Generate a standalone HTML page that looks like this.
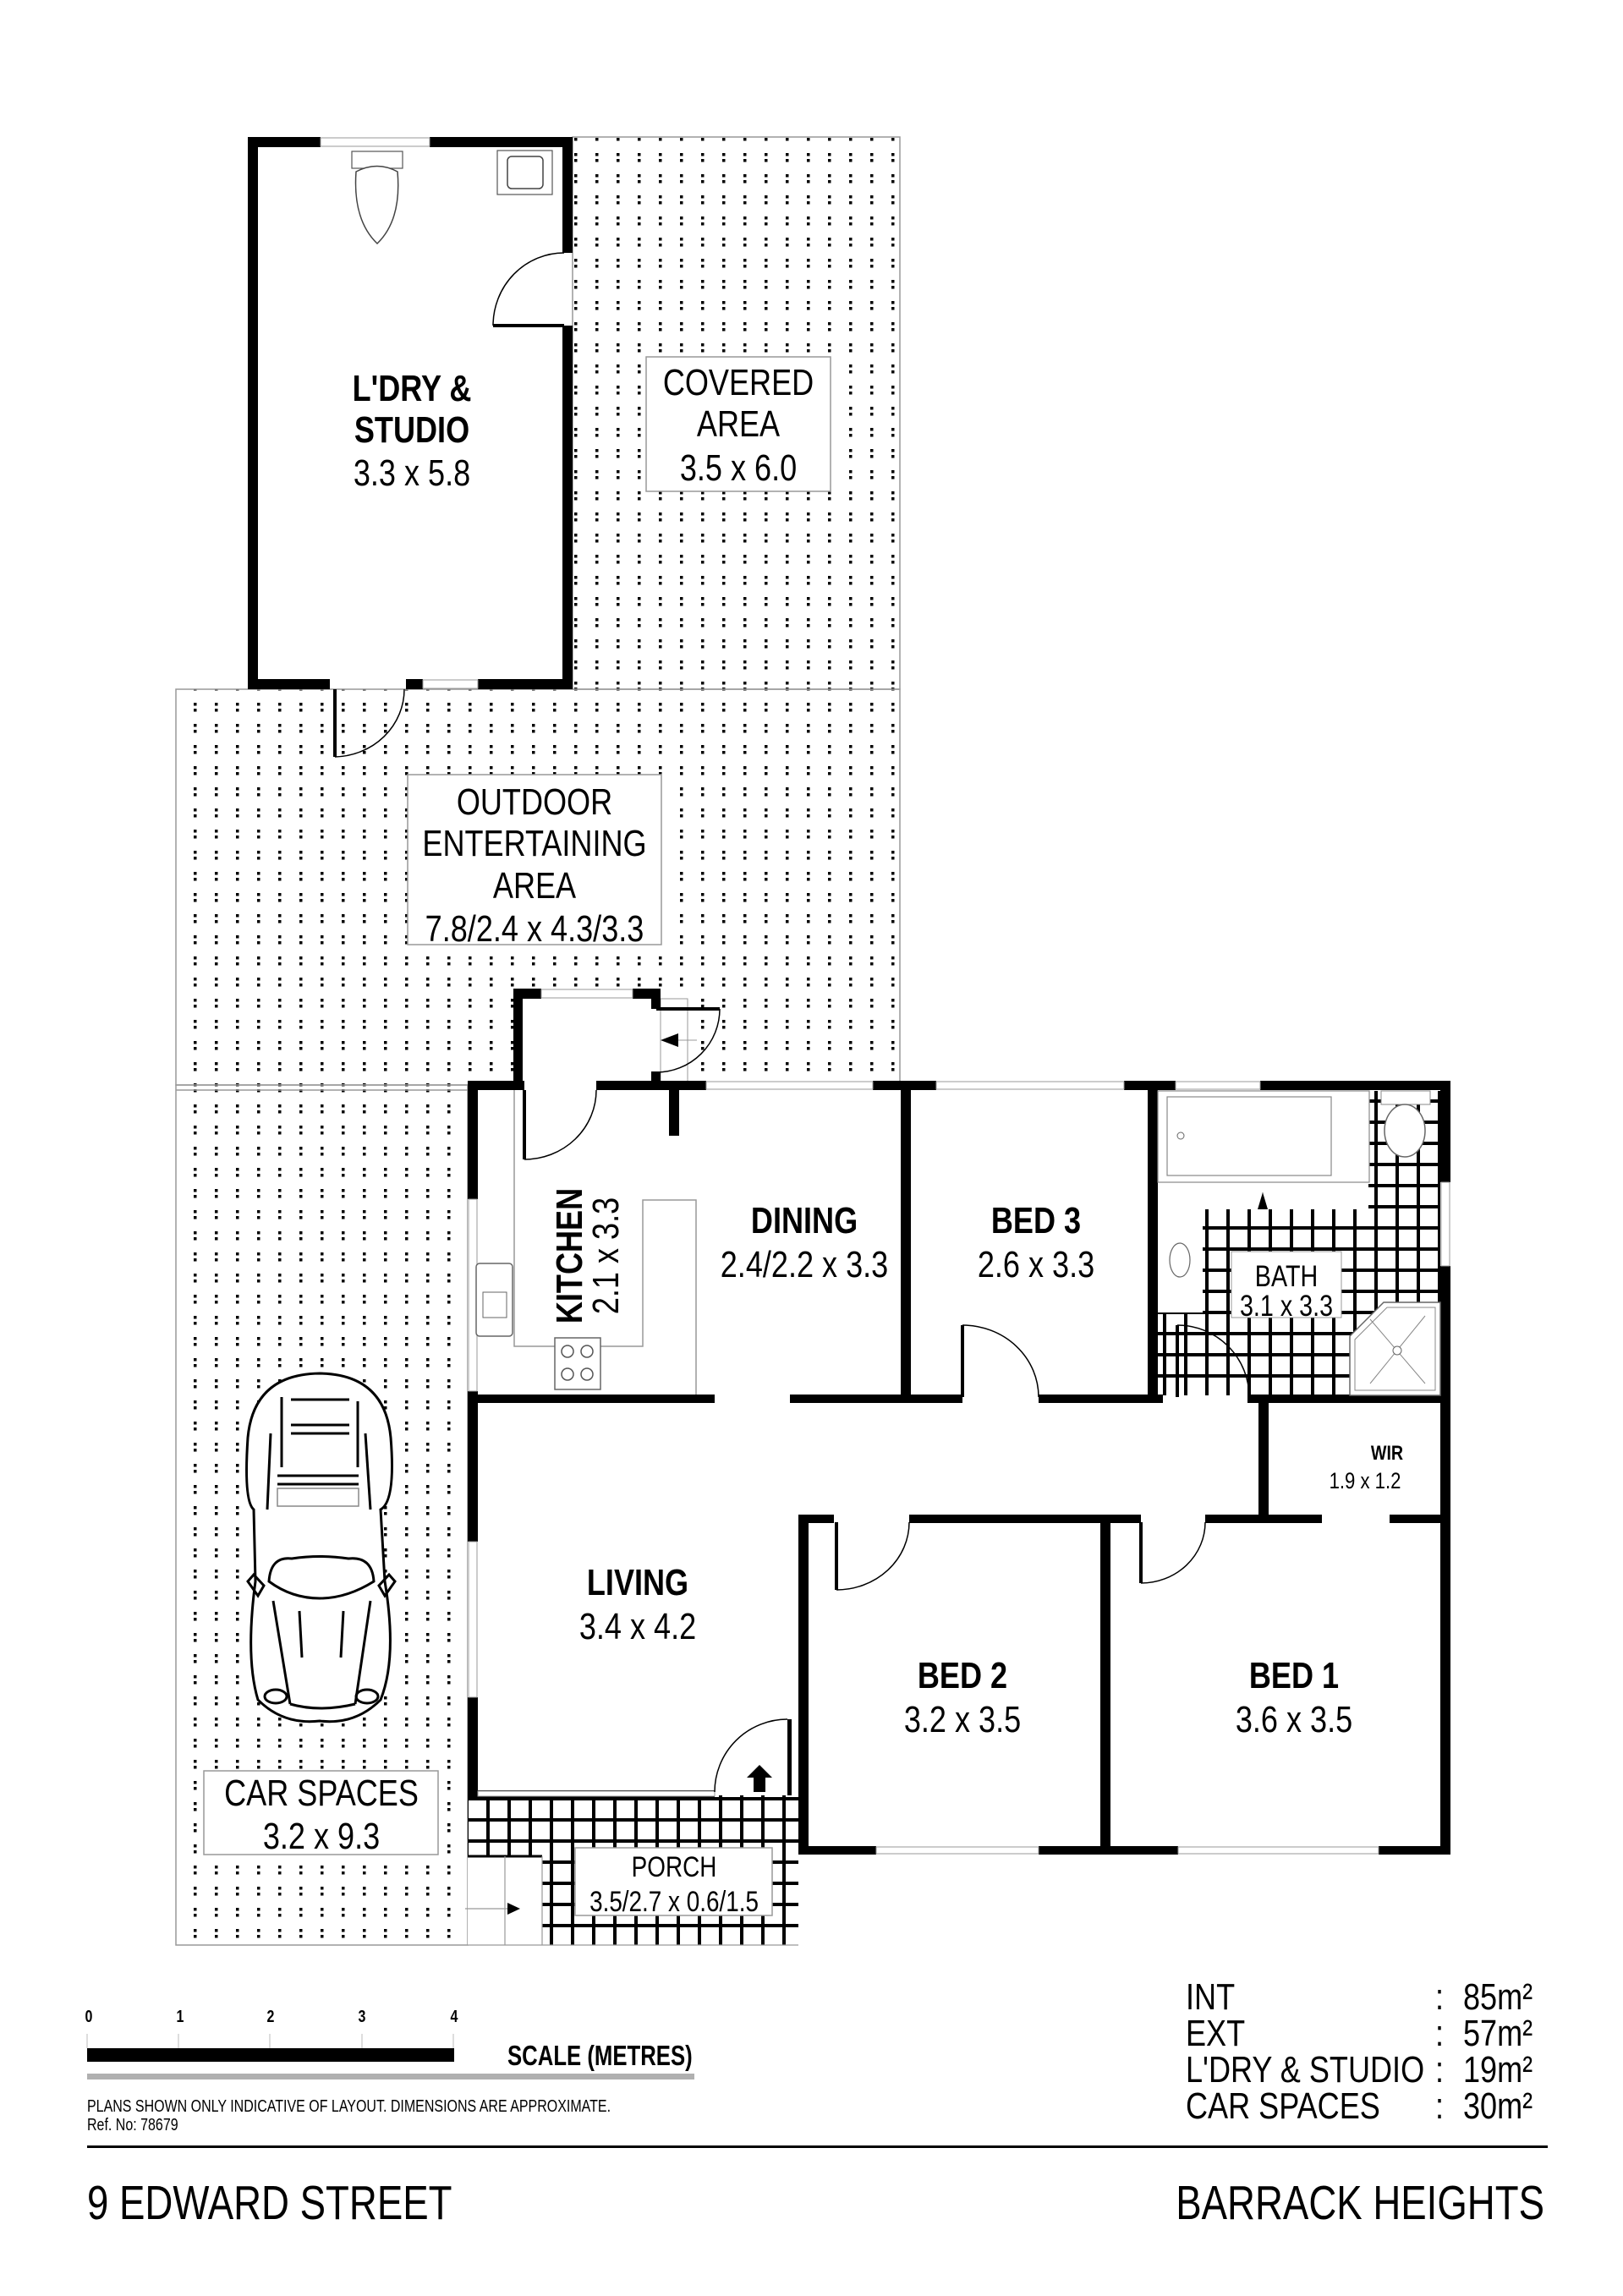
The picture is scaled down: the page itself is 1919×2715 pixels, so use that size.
<!DOCTYPE html>
<html><head><meta charset="utf-8"><style>
html,body{margin:0;padding:0;background:#fff;}
svg{display:block;}
text{font-family:"Liberation Sans",sans-serif;fill:#000;}
</style></head><body>
<svg width="1919" height="2715" viewBox="0 0 1919 2715" xmlns="http://www.w3.org/2000/svg">
<defs>
<pattern id="dots" x="0" y="0" width="25" height="25" patternUnits="userSpaceOnUse">
<rect x="4" y="6" width="3.5" height="3.5" fill="#000"/><rect x="4" y="13" width="3.5" height="3.5" fill="#000"/>
</pattern>
<pattern id="tiles" x="0" y="0" width="25" height="25" patternUnits="userSpaceOnUse">
<rect x="0" y="0" width="25" height="25" fill="#fff"/>
<rect x="0" y="0" width="4" height="25" fill="#000"/><rect x="0" y="0" width="25" height="4" fill="#000"/>
</pattern>
</defs>

<rect x="677" y="162" width="387" height="653" fill="url(#dots)" stroke="#999" stroke-width="1.5"/>
<rect x="208" y="815" width="856" height="468" fill="url(#dots)" stroke="#999" stroke-width="1.5"/>
<rect x="208" y="1283" width="345" height="1017" fill="url(#dots)" stroke="#999" stroke-width="1.5"/>
<line x1="208" y1="1289" x2="553" y2="1289" stroke="#999" stroke-width="1.5"/>

<rect x="305" y="174" width="360" height="629" fill="#fff"/>
<g fill="#000">
<rect x="293" y="162" width="12" height="653"/>
<rect x="293" y="162" width="86" height="12"/>
<rect x="508" y="162" width="169" height="12"/>
<rect x="665" y="162" width="12" height="137"/>
<rect x="665" y="385" width="12" height="430"/>
<rect x="293" y="803" width="97" height="12"/>
<rect x="480" y="803" width="20" height="12"/>
<rect x="565" y="803" width="112" height="12"/>
</g>
<rect x="379" y="163" width="129" height="10" fill="#fff" stroke="#999" stroke-width="1"/>
<rect x="500" y="804" width="65" height="10" fill="#fff" stroke="#999" stroke-width="1"/>
<line x1="583" y1="385" x2="667" y2="385" stroke="#000" stroke-width="4"/>
<path d="M583 385 A84 86 0 0 1 667 299" fill="none" stroke="#000" stroke-width="1.5"/>
<line x1="396" y1="815" x2="396" y2="895" stroke="#000" stroke-width="4"/>
<path d="M396 895 A84 80 0 0 0 478 815" fill="none" stroke="#000" stroke-width="1.5"/>
<rect x="416" y="179" width="60" height="20" fill="#fff" stroke="#555" stroke-width="1.2"/>
<path d="M421 203 Q446 190 470 203 Q475 260 446 288 Q417 260 421 203Z" fill="#fff" stroke="#444" stroke-width="1.5"/>
<rect x="588" y="178" width="65" height="52" fill="#fff" stroke="#555" stroke-width="1.2"/>
<rect x="600" y="185" width="42" height="38" rx="5" fill="#fff" stroke="#444" stroke-width="1.5"/>

<g font-weight="bold" font-size="44" text-anchor="middle">
<text transform="translate(487,474) scale(.82,1)">L'DRY &amp;</text>
<text transform="translate(487,523) scale(.82,1)">STUDIO</text>
</g>
<text transform="translate(487,574) scale(.82,1)" font-size="44" text-anchor="middle">3.3 x 5.8</text>

<rect x="764" y="422" width="218" height="159" fill="#fff" stroke="#999" stroke-width="1.5"/>
<g font-size="44" text-anchor="middle">
<text transform="translate(873,467) scale(.82,1)">COVERED</text>
<text transform="translate(873,516) scale(.82,1)">AREA</text>
<text transform="translate(873,568) scale(.82,1)">3.5 x 6.0</text>
</g>

<rect x="482" y="916" width="300" height="201" fill="#fff" stroke="#999" stroke-width="1.5"/>
<g font-size="44" text-anchor="middle">
<text transform="translate(632,963) scale(.82,1)">OUTDOOR</text>
<text transform="translate(632,1012) scale(.82,1)">ENTERTAINING</text>
<text transform="translate(632,1062) scale(.82,1)">AREA</text>
<text transform="translate(632,1113) scale(.82,1)">7.8/2.4 x 4.3/3.3</text>
</g>

<rect x="553" y="1278" width="1162" height="845" fill="#fff"/>
<rect x="944" y="2123" width="771" height="70" fill="#fff"/>
<rect x="607" y="1169" width="174" height="115" fill="#fff"/>
<rect x="781" y="1181" width="32" height="100" fill="#fff" stroke="#999" stroke-width="1"/>

<rect x="553" y="2123" width="391" height="177" fill="url(#tiles)"/>
<rect x="553" y="2195" width="88" height="105" fill="#fff"/>
<line x1="553" y1="2195" x2="641" y2="2195" stroke="#000" stroke-width="3"/>
<line x1="597" y1="2195" x2="597" y2="2300" stroke="#999" stroke-width="1.2"/>
<line x1="641" y1="2195" x2="641" y2="2300" stroke="#999" stroke-width="1.2"/>
<line x1="553" y1="2300" x2="944" y2="2300" stroke="#999" stroke-width="1.2"/>
<line x1="550" y1="2257" x2="600" y2="2257" stroke="#999" stroke-width="1.2"/>
<polygon points="600,2250 615,2257 600,2264" fill="#000"/>

<rect x="1422" y="1430" width="281" height="220" fill="url(#tiles)"/>
<rect x="1618" y="1290" width="85" height="140" fill="url(#tiles)"/>
<rect x="1368" y="1552" width="54" height="98" fill="url(#tiles)"/>

<g fill="#000">
<rect x="607" y="1169" width="11" height="119"/>
<rect x="607" y="1169" width="33" height="12"/>
<rect x="748" y="1169" width="33" height="12"/>
<rect x="770" y="1169" width="11" height="24"/>
<rect x="770" y="1267" width="11" height="21"/>
</g>
<rect x="640" y="1170" width="108" height="10" fill="#fff" stroke="#999" stroke-width="1"/>
<line x1="776" y1="1193" x2="851" y2="1193" stroke="#000" stroke-width="4"/>
<path d="M851 1193 A75 75 0 0 1 776 1268" fill="none" stroke="#000" stroke-width="1.5"/>
<polygon points="781,1230 802,1222 802,1238" fill="#000"/>
<line x1="802" y1="1230" x2="824" y2="1230" stroke="#999" stroke-width="1"/>

<g fill="#000">
<rect x="553" y="1278" width="67" height="11"/>
<rect x="705" y="1278" width="130" height="11"/>
<rect x="1032" y="1278" width="75" height="11"/>
<rect x="1329" y="1278" width="61" height="11"/>
<rect x="1490" y="1278" width="225" height="11"/>
<rect x="553" y="1278" width="12" height="140"/>
<rect x="553" y="1645" width="12" height="178"/>
<rect x="553" y="2007" width="12" height="121"/>
<rect x="1703" y="1278" width="12" height="120"/>
<rect x="1703" y="1497" width="12" height="696"/>
<rect x="791" y="1289" width="12" height="54"/>
<rect x="553" y="1649" width="292" height="10"/>
<rect x="934" y="1649" width="204" height="10"/>
<rect x="1228" y="1649" width="147" height="10"/>
<rect x="1475" y="1649" width="240" height="10"/>
<rect x="1065" y="1278" width="12" height="381"/>
<rect x="1357" y="1278" width="12" height="381"/>
<rect x="1488" y="1649" width="12" height="151"/>
<rect x="944" y="1791" width="42" height="10"/>
<rect x="1075" y="1791" width="274" height="10"/>
<rect x="1425" y="1791" width="138" height="10"/>
<rect x="1643" y="1791" width="72" height="10"/>
<rect x="944" y="1791" width="12" height="402"/>
<rect x="1301" y="1801" width="12" height="392"/>
<rect x="553" y="2117" width="292" height="8"/>
<rect x="931" y="2033" width="5" height="90"/>
<rect x="944" y="2183" width="92" height="10"/>
<rect x="1228" y="2183" width="165" height="10"/>
<rect x="1630" y="2183" width="85" height="10"/>
</g>
<g fill="#fff" stroke="#999" stroke-width="1">
<rect x="835" y="1279" width="197" height="9"/>
<rect x="1107" y="1279" width="222" height="9"/>
<rect x="1390" y="1279" width="100" height="9"/>
<rect x="554" y="1418" width="10" height="227"/>
<rect x="554" y="1823" width="10" height="184"/>
<rect x="1704" y="1398" width="10" height="99"/>
<rect x="1036" y="2184" width="192" height="8"/>
<rect x="1393" y="2184" width="237" height="8"/>
<rect x="565" y="2118" width="280" height="6"/>
</g>

<g fill="none" stroke="#000">
<line x1="620" y1="1289" x2="620" y2="1371" stroke-width="4"/>
<path d="M620 1371 A85 82 0 0 0 705 1289" stroke-width="1.5"/>
<line x1="1138" y1="1567" x2="1138" y2="1652" stroke-width="4"/>
<path d="M1138 1567 A90 85 0 0 1 1228 1652" stroke-width="1.5"/>
<line x1="1392" y1="1567" x2="1392" y2="1652" stroke-width="4"/>
<path d="M1392 1567 A85 85 0 0 1 1477 1652" stroke-width="1.5"/>
<line x1="989" y1="1800" x2="989" y2="1880" stroke-width="4"/>
<path d="M989 1880 A86 80 0 0 0 1075 1800" stroke-width="1.5"/>
<line x1="1349" y1="1800" x2="1349" y2="1872" stroke-width="4"/>
<path d="M1349 1872 A76 72 0 0 0 1425 1800" stroke-width="1.5"/>
<path d="M931 2033 A86 86 0 0 0 845 2119" stroke-width="1.5"/>
</g>
<polygon points="891,2119 891,2102 883,2102 898,2087 913,2102 905,2102 905,2119" fill="#000"/>

<polyline points="608,1289 608,1592 760,1592 760,1419 823,1419 823,1649" fill="none" stroke="#999" stroke-width="1.5"/>
<rect x="563" y="1494" width="43" height="86" rx="4" fill="#fff" stroke="#666" stroke-width="1.5"/>
<rect x="571" y="1528" width="28" height="30" fill="none" stroke="#666" stroke-width="1"/>
<rect x="656" y="1582" width="54" height="61" fill="#fff" stroke="#666" stroke-width="1.5"/>
<circle cx="671" cy="1598" r="7" fill="none" stroke="#555" stroke-width="1.5"/>
<circle cx="694" cy="1598" r="7" fill="none" stroke="#555" stroke-width="1.5"/>
<circle cx="671" cy="1625" r="7" fill="none" stroke="#555" stroke-width="1.5"/>
<circle cx="694" cy="1625" r="7" fill="none" stroke="#555" stroke-width="1.5"/>

<rect x="1369" y="1290" width="250" height="108" fill="#fff" stroke="#888" stroke-width="1.2"/>
<rect x="1380" y="1297" width="194" height="93" fill="#fff" stroke="#888" stroke-width="1.2"/>
<circle cx="1396" cy="1343" r="4" fill="none" stroke="#666"/>
<line x1="1493" y1="1410" x2="1493" y2="1430" stroke="#999"/>
<polygon points="1493,1410 1487,1430 1499,1430" fill="#000"/>
<rect x="1633" y="1290" width="58" height="16" fill="#fff" stroke="#888"/>
<ellipse cx="1661" cy="1337" rx="24" ry="31" fill="#fff" stroke="#666" stroke-width="1.5"/>
<ellipse cx="1395" cy="1490" rx="12" ry="20" fill="none" stroke="#666" stroke-width="1.2"/>
<polygon points="1636,1540 1703,1540 1703,1650 1596,1650 1596,1580" fill="#fff" stroke="#666" stroke-width="1.5"/>
<polygon points="1640,1546 1697,1546 1697,1644 1602,1644 1602,1584" fill="none" stroke="#888" stroke-width="1"/>
<line x1="1620" y1="1636" x2="1685" y2="1556" stroke="#888" stroke-width="1"/>
<line x1="1620" y1="1560" x2="1685" y2="1636" stroke="#888" stroke-width="1"/>
<circle cx="1652" cy="1597" r="5" fill="#fff" stroke="#666"/>

<g fill="#fff" stroke="#000" stroke-width="3">
<path d="M300 1785 Q288 1775 293 1700 Q300 1625 378 1624 Q455 1625 462 1700 Q468 1775 450 1785 L455 1870 Q470 1960 450 2010 Q420 2040 378 2035 Q335 2040 305 2010 Q290 1960 302 1870 Z"/>
<path d="M318 1870 Q320 1840 345 1843 Q378 1838 412 1843 Q440 1840 442 1870 Q410 1890 378 1890 Q345 1890 318 1870Z"/>
</g>
<g fill="none" stroke="#000" stroke-width="3">
<line x1="344" y1="1655" x2="413" y2="1655"/>
<line x1="344" y1="1685" x2="413" y2="1685"/>
<line x1="344" y1="1695" x2="413" y2="1695"/>
<line x1="328" y1="1745" x2="424" y2="1745"/>
<line x1="328" y1="1755" x2="424" y2="1755"/>
<line x1="333" y1="1652" x2="333" y2="1735"/>
<line x1="423" y1="1657" x2="423" y2="1735"/>
<line x1="320" y1="1695" x2="316" y2="1785"/>
<line x1="432" y1="1695" x2="438" y2="1785"/>
<line x1="323" y1="1893" x2="343" y2="2015"/>
<line x1="438" y1="1893" x2="420" y2="2015"/>
<line x1="354" y1="1905" x2="357" y2="1960"/>
<line x1="406" y1="1905" x2="403" y2="1960"/>
<path d="M343 2015 Q378 2025 420 2015"/>
<ellipse cx="326" cy="2006" rx="13" ry="8"/>
<ellipse cx="434" cy="2006" rx="13" ry="8"/>
<polygon points="293,1870 300,1862 312,1875 305,1887"/>
<polygon points="467,1870 460,1862 448,1875 455,1887"/>
</g>
<rect x="328" y="1760" width="96" height="21" fill="none" stroke="#888" stroke-width="1.5"/>

<g font-size="44" text-anchor="middle">
<text transform="translate(951,1458) scale(.82,1)" font-weight="bold">DINING</text>
<text transform="translate(951,1510) scale(.82,1)">2.4/2.2 x 3.3</text>
<text transform="translate(1225,1458) scale(.82,1)" font-weight="bold">BED 3</text>
<text transform="translate(1225,1510) scale(.82,1)">2.6 x 3.3</text>
<text transform="translate(754,1886) scale(.82,1)" font-weight="bold">LIVING</text>
<text transform="translate(754,1938) scale(.82,1)">3.4 x 4.2</text>
<text transform="translate(1138,1996) scale(.82,1)" font-weight="bold">BED 2</text>
<text transform="translate(1138,2048) scale(.82,1)">3.2 x 3.5</text>
<text transform="translate(1530,1996) scale(.82,1)" font-weight="bold">BED 1</text>
<text transform="translate(1530,2048) scale(.82,1)">3.6 x 3.5</text>
</g>
<text transform="translate(688,1485) rotate(-90) scale(.82,1)" font-size="44" font-weight="bold" text-anchor="middle">KITCHEN</text>
<text transform="translate(731,1485) rotate(-90) scale(.82,1)" font-size="44" text-anchor="middle">2.1 x 3.3</text>

<rect x="1456" y="1480" width="130" height="78" fill="#fff" stroke="#999" stroke-width="1"/>
<text transform="translate(1521,1521) scale(.82,1)" font-size="35" text-anchor="middle">BATH</text>
<text transform="translate(1521,1556) scale(.82,1)" font-size="35" text-anchor="middle">3.1 x 3.3</text>

<text transform="translate(1640,1726) scale(.82,1)" font-size="24" font-weight="bold" text-anchor="middle">WIR</text>
<text transform="translate(1614,1760) scale(.82,1)" font-size="27" text-anchor="middle">1.9 x 1.2</text>

<rect x="241" y="2094" width="277" height="99" fill="#fff" stroke="#999" stroke-width="1.5"/>
<text transform="translate(380,2135) scale(.82,1)" font-size="44" text-anchor="middle">CAR SPACES</text>
<text transform="translate(380,2186) scale(.82,1)" font-size="44" text-anchor="middle">3.2 x 9.3</text>

<rect x="680" y="2185" width="233" height="80" fill="#fff" stroke="#999" stroke-width="1.5"/>
<text transform="translate(797,2219) scale(.82,1)" font-size="34" text-anchor="middle">PORCH</text>
<text transform="translate(797,2260) scale(.82,1)" font-size="34" text-anchor="middle">3.5/2.7 x 0.6/1.5</text>

<g font-size="20" font-weight="bold" text-anchor="middle">
<text transform="translate(105,2391) scale(.8,1)">0</text>
<text transform="translate(213,2391) scale(.8,1)">1</text>
<text transform="translate(320,2391) scale(.8,1)">2</text>
<text transform="translate(428,2391) scale(.8,1)">3</text>
<text transform="translate(537,2391) scale(.8,1)">4</text>
</g>
<g stroke="#bbb" stroke-width="1">
<line x1="103" y1="2405" x2="103" y2="2422"/><line x1="211" y1="2405" x2="211" y2="2422"/>
<line x1="319" y1="2405" x2="319" y2="2422"/><line x1="428" y1="2405" x2="428" y2="2422"/>
<line x1="536" y1="2405" x2="536" y2="2422"/>
</g>
<rect x="103" y="2422" width="434" height="16" fill="#000"/>
<rect x="103" y="2452" width="718" height="7" fill="#b0b0b0"/>
<text transform="translate(600,2442) scale(.78,1)" font-size="33" font-weight="bold">SCALE (METRES)</text>
<text transform="translate(103,2497) scale(.8,1)" font-size="20">PLANS SHOWN ONLY INDICATIVE OF LAYOUT.  DIMENSIONS ARE APPROXIMATE.</text>
<text transform="translate(103,2519) scale(.8,1)" font-size="20">Ref. No: 78679</text>
<rect x="103" y="2537" width="1727" height="3" fill="#000"/>

<g font-size="44">
<text transform="translate(1402,2376) scale(.82,1)">INT</text>
<text transform="translate(1402,2419) scale(.82,1)">EXT</text>
<text transform="translate(1402,2462) scale(.82,1)">L'DRY &amp; STUDIO</text>
<text transform="translate(1402,2505) scale(.82,1)">CAR SPACES</text>
<text transform="translate(1697,2376) scale(.82,1)">:</text>
<text transform="translate(1697,2419) scale(.82,1)">:</text>
<text transform="translate(1697,2462) scale(.82,1)">:</text>
<text transform="translate(1697,2505) scale(.82,1)">:</text>
<text transform="translate(1730,2376) scale(.82,1)">85m²</text>
<text transform="translate(1730,2419) scale(.82,1)">57m²</text>
<text transform="translate(1730,2462) scale(.82,1)">19m²</text>
<text transform="translate(1730,2505) scale(.82,1)">30m²</text>
</g>

<text transform="translate(103,2624) scale(.8,1)" font-size="57">9 EDWARD STREET</text>
<text transform="translate(1826,2624) scale(.8,1)" font-size="57" text-anchor="end">BARRACK HEIGHTS</text>
</svg>
</body></html>
